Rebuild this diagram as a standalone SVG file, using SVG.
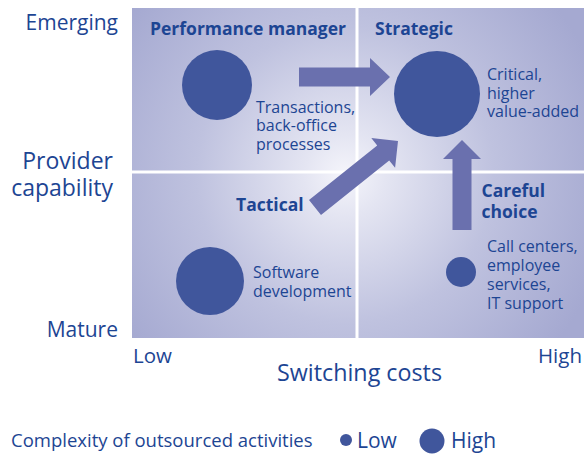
<svg xmlns="http://www.w3.org/2000/svg" width="584" height="455" viewBox="0 0 584 455">
<defs>
<radialGradient id="bg" gradientUnits="userSpaceOnUse" cx="345" cy="175" r="270">
<stop offset="0" stop-color="#f5f5fb"/>
<stop offset="0.15" stop-color="#e4e5f2"/>
<stop offset="0.55" stop-color="#bfc2df"/>
<stop offset="1" stop-color="#a5a9d1"/>
</radialGradient>
<style>
.t{font-family:"Open Sans","Liberation Sans",sans-serif;fill:#1d4593}
.b{font-weight:bold;font-size:17.5px}
.s{font-size:16px}
.ax{font-size:21px}
.dot{fill:#40569c}
.arr{fill:#6a70ae}
</style>
</defs>
<g id="plot">
<rect x="132" y="8" width="452" height="330" fill="url(#bg)"/>
<line x1="357" y1="8" x2="357" y2="338" stroke="#ffffff" stroke-width="3"/>
<line x1="132" y1="172" x2="584" y2="172" stroke="#ffffff" stroke-width="3"/>
</g>
<g id="axes">
<text class="t ax" x="118" y="29.5" text-anchor="end">Emerging</text>
<text class="t" style="font-size:23px" text-anchor="end"><tspan x="113" y="168.5">Provider</tspan><tspan x="113" y="196">capability</tspan></text>
<text class="t ax" x="118" y="337" text-anchor="end">Mature</text>
<text class="t" style="font-size:20.5px" x="133" y="363">Low</text>
<text class="t" style="font-size:20.5px" x="582" y="363" text-anchor="end">High</text>
<text class="t" style="font-size:23.3px" x="277" y="381">Switching costs</text>
</g>
<g id="connectors">
<polygon class="arr" points="299,67.5 370,67.5 370,58 390,77 370,96 370,86.5 299,86.5"/>
<polygon class="arr" points="452.5,230 452.5,159 443,159 462,140 481,159 471.5,159 471.5,230"/>
<polygon class="arr" points="309,200 377.2,145.4 371.3,138.1 398,141 395.1,167.7 389.2,160.4 321,215"/>
</g>
<g id="performance-manager">
<text class="t b" x="150" y="35">Performance manager</text>
<circle class="dot" cx="217" cy="85" r="35"/>
<text class="t s"><tspan x="256" y="112.5">Transactions,</tspan><tspan x="256" y="131">back-office</tspan><tspan x="256" y="149.5">processes</tspan></text>
</g>
<g id="strategic">
<text class="t b" x="375" y="35">Strategic</text>
<circle class="dot" cx="437" cy="94" r="43"/>
<text class="t s"><tspan x="487" y="80">Critical,</tspan><tspan x="487" y="98.7">higher</tspan><tspan x="487" y="117.4">value-added</tspan></text>
</g>
<g id="tactical">
<text class="t b" x="236" y="210.7">Tactical</text>
<circle class="dot" cx="210" cy="281" r="34"/>
<text class="t s"><tspan x="253" y="278.3">Software</tspan><tspan x="253" y="296.7">development</tspan></text>
</g>
<g id="careful-choice">
<text class="t b"><tspan x="481.5" y="196.7">Careful</tspan><tspan x="481.5" y="218.3">choice</tspan></text>
<circle class="dot" cx="461" cy="272" r="15"/>
<text class="t s"><tspan x="487" y="252">Call centers,</tspan><tspan x="487" y="271">employee</tspan><tspan x="487" y="290">services,</tspan><tspan x="487" y="309">IT support</tspan></text>
</g>
<g id="legend">
<text class="t" style="font-size:18.5px" x="11" y="447.3">Complexity of outsourced activities</text>
<circle class="dot" cx="346" cy="440" r="6"/>
<text class="t" style="font-size:21px" x="357" y="448">Low</text>
<circle class="dot" cx="432" cy="441" r="12.5"/>
<text class="t" style="font-size:21px" x="451" y="448">High</text>
</g>
</svg>
